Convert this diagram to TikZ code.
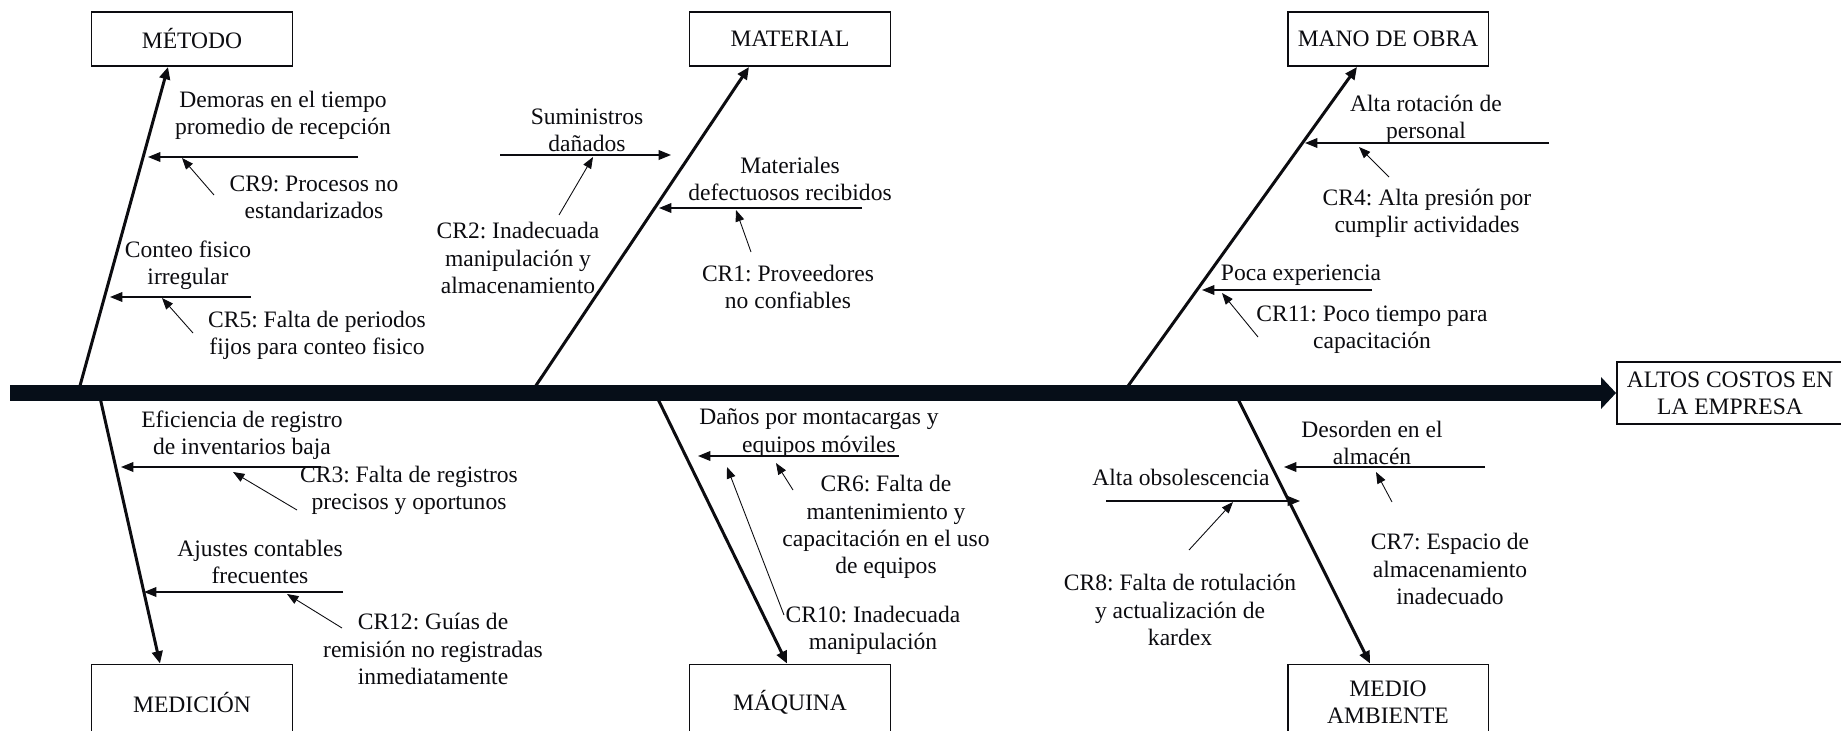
\documentclass[tikz,border=0pt]{standalone}
\usepackage{fontspec}
\setmainfont{Liberation Serif}
\usepackage{xcolor}
\usepackage{tikz}
\usetikzlibrary{arrows.meta,calc}
\definecolor{espina}{RGB}{6,14,24}
\definecolor{tinta}{RGB}{12,12,16}
\frenchspacing

\begin{document}
\begin{tikzpicture}[
    x=0.02cm, y=-0.02cm,
    every node/.style={font=\fontsize{13.4}{15.5}\selectfont, text=tinta},
    categoria/.style={draw=tinta, line width=1.1pt, fill=white, minimum width=4.02cm,
                minimum height=1.08cm, align=center, inner sep=0pt},
    efectoBox/.style={draw=tinta, line width=1.1pt, fill=white, minimum width=4.52cm,
                minimum height=1.24cm, align=center, inner sep=0pt},
    txt/.style={align=center, inner sep=0pt},
    espinaArr/.style={line width=0.32cm, draw=espina, -{Triangle[length=0.3cm, width=0.62cm]}},
    hueso/.style={line width=1.7pt, draw=tinta, -{Triangle[length=7pt, width=6pt]}},
    arr/.style={line width=0.75pt, draw=tinta, -{Triangle[length=7pt, width=5.5pt]}},
    crArr/.style={line width=0.5pt, draw=tinta, -{Triangle[length=6.5pt, width=5pt]}}
]
\fill[white] (0,0) rectangle (1841,730);
\path[use as bounding box, clip] (0,0) rectangle (1841,730);

\node[categoria] (metodo) at (192,39) {MÉTODO};
\node[categoria] (material) at (790,39) {MATERIAL};
\node[categoria] (manoobra) at (1388,39) {MANO DE OBRA};
\node[categoria, minimum height=1.5cm] (medicion) at (192,702) {MEDICIÓN};
\node[categoria, minimum height=1.5cm] (maquina) at (790,702) {MÁQUINA};
\node[categoria, minimum height=1.5cm] (medio) at (1388,702) {MEDIO\\AMBIENTE};
\node[efectoBox] (efecto) at (1730,393) {ALTOS COSTOS EN\\LA EMPRESA};

\node[txt] (tDemoras) at (283,115) {Demoras en el tiempo\\promedio de recepción};
\node[txt] (tCR9) at (314,197) {CR9: Procesos no\\estandarizados};
\node[txt] (tConteo) at (188,265) {Conteo fisico\\irregular};
\node[txt] (tCR5) at (317,335) {CR5: Falta de periodos\\fijos para conteo fisico};
\node[txt] (tSumin) at (587,130) {Suministros\\dañados};
\node[txt] (tCR2) at (518,258) {CR2: Inadecuada\\manipulación y\\almacenamiento};
\node[txt] (tMater) at (790,179) {Materiales\\defectuosos recibidos};
\node[txt] (tCR1) at (788,287) {CR1: Proveedores\\no confiables};
\node[txt] (tRotac) at (1426,119) {Alta rotación de\\personal};
\node[txt] (tCR4) at (1427,213) {CR4: Alta presión por\\cumplir actividades};
\node[txt] (tPoca) at (1301,275) {Poca experiencia};
\node[txt] (tCR11) at (1372,330) {CR11: Poco tiempo para\\capacitación};
\node[txt] (tEfic) at (242,435) {Eficiencia de registro\\de inventarios baja};
\node[txt] (tCR3) at (409,490) {CR3: Falta de registros\\precisos y oportunos};
\node[txt] (tAjust) at (260,562) {Ajustes contables\\frecuentes};
\node[txt] (tCR12) at (433,649) {CR12: Guías de\\remisión no registradas\\inmediatamente};
\node[txt] (tDanos) at (819,433) {Daños por montacargas y\\equipos móviles};
\node[txt] (tCR6) at (886,527) {CR6: Falta de\\mantenimiento y\\capacitación en el uso\\de equipos};
\node[txt] (tCR10) at (873,630) {CR10: Inadecuada\\manipulación};
\node[txt] (tObsol) at (1181,477) {Alta obsolescencia};
\node[txt] (tCR8) at (1180,610) {CR8: Falta de rotulación\\y actualización de\\kardex};
\node[txt] (tDesor) at (1372,443) {Desorden en el\\almacén};
\node[txt] (tCR7) at (1450,569) {CR7: Espacio de\\almacenamiento\\inadecuado};

\coordinate (cola) at (10,393);
\coordinate (hMetodo) at (78,393);
\coordinate (hMaterial) at (531,393);
\coordinate (hMano) at (1123,393);
\coordinate (hMedicion) at (99,393);
\coordinate (hMaquina) at (655,393);
\coordinate (hMedio) at (1235,393);

\draw[hueso] (hMetodo) -- ($(metodo.south)+(-24,0)$);
\draw[hueso] (hMaterial) -- ($(material.south)+(-41,0)$);
\draw[hueso] (hMano) -- ($(manoobra.south)+(-31,0)$);
\draw[hueso] (hMedicion) -- ($(medicion.north)+(-32,0)$);
\draw[hueso] (hMaquina) -- ($(maquina.north)+(-3,0)$);
\draw[hueso] (hMedio) -- ($(medio.north)+(-18,0)$);
\draw[espinaArr] (cola) -- (efecto.west);

\coordinate (demA) at (358,157);  \coordinate (demB) at (148,157);
\coordinate (conA) at (251,297);  \coordinate (conB) at (110,297);
\coordinate (sumA) at (500,155);  \coordinate (sumB) at (671,155);
\coordinate (matA) at (862,208);  \coordinate (matB) at (659,208);
\coordinate (rotA) at (1549,143); \coordinate (rotB) at (1305,143);
\coordinate (pocA) at (1372,290); \coordinate (pocB) at (1202,290);
\coordinate (efiA) at (321,467);  \coordinate (efiB) at (121,467);
\coordinate (ajuA) at (343,592);  \coordinate (ajuB) at (144,592);
\coordinate (danA) at (899,456);  \coordinate (danB) at (698,456);
\coordinate (desA) at (1485,467); \coordinate (desB) at (1284,467);
\coordinate (obsA) at (1106,501); \coordinate (obsB) at (1300,501);

\draw[arr] (demA) -- (demB);
\draw[arr] (conA) -- (conB);
\draw[arr] (sumA) -- (sumB);
\draw[arr] (matA) -- (matB);
\draw[arr] (rotA) -- (rotB);
\draw[arr] (pocA) -- (pocB);
\draw[arr] (efiA) -- (efiB);
\draw[arr] (ajuA) -- (ajuB);
\draw[arr] (danA) -- (danB);
\draw[arr] (desA) -- (desB);
\draw[arr] (obsA) -- (obsB);

\coordinate (cr9A) at (214,195);   \coordinate (cr9B) at (182,158);
\coordinate (cr5A) at (193,333);   \coordinate (cr5B) at (162,298);
\coordinate (cr2A) at (559,215);   \coordinate (cr2B) at (593,157);
\coordinate (cr1A) at (751,252);   \coordinate (cr1B) at (736,210);
\coordinate (cr4A) at (1389,177);  \coordinate (cr4B) at (1359,147);
\coordinate (cr11A) at (1258,337); \coordinate (cr11B) at (1222,293);
\coordinate (cr3A) at (297,510);   \coordinate (cr3B) at (233,472);
\coordinate (cr12A) at (342,628);  \coordinate (cr12B) at (287,594);
\coordinate (cr6A) at (793,490);   \coordinate (cr6B) at (776,463);
\coordinate (cr10A) at (784,615);  \coordinate (cr10B) at (727,467);
\coordinate (cr8A) at (1189,550);  \coordinate (cr8B) at (1233,502);
\coordinate (cr7A) at (1392,502);  \coordinate (cr7B) at (1376,472);

\draw[crArr] (cr9A) -- (cr9B);
\draw[crArr] (cr5A) -- (cr5B);
\draw[crArr] (cr2A) -- (cr2B);
\draw[crArr] (cr1A) -- (cr1B);
\draw[crArr] (cr4A) -- (cr4B);
\draw[crArr] (cr11A) -- (cr11B);
\draw[crArr] (cr3A) -- (cr3B);
\draw[crArr] (cr12A) -- (cr12B);
\draw[crArr] (cr6A) -- (cr6B);
\draw[crArr] (cr10A) -- (cr10B);
\draw[crArr] (cr8A) -- (cr8B);
\draw[crArr] (cr7A) -- (cr7B);
\end{tikzpicture}
\end{document}
